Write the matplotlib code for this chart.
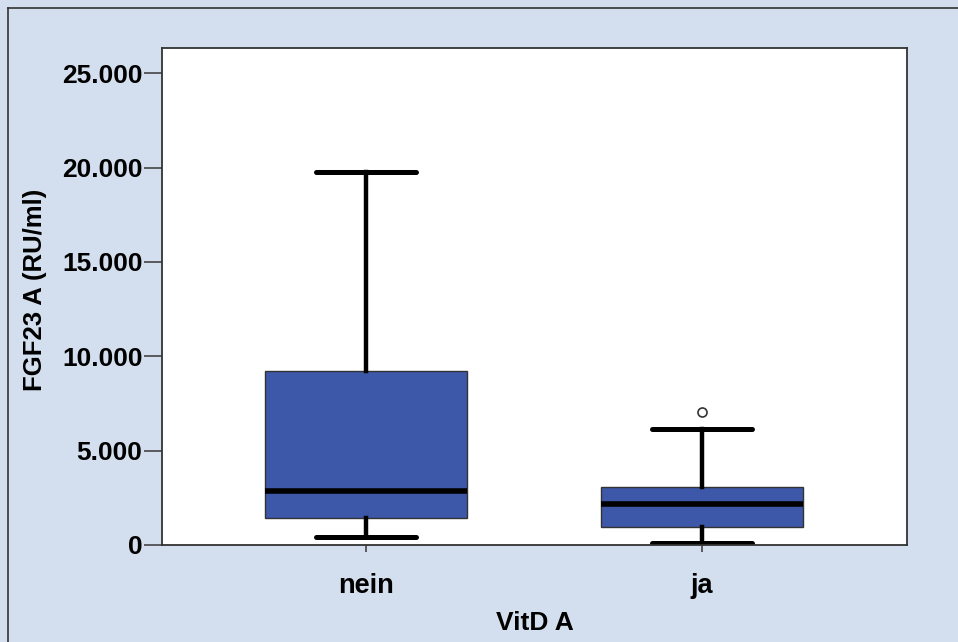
import matplotlib
matplotlib.use("Agg")
import matplotlib.pyplot as plt
from matplotlib.lines import Line2D
from matplotlib.ticker import FuncFormatter

# Group labels and five-number summaries (RU/ml)
groups = ["nein", "ja"]
whisker_low = [410, 120]
q1 = [1410, 970]
median = [2880, 2170]
q3 = [9240, 3060]
whisker_high = [19770, 6150]
outliers = [[], [7060]]

y_ticks = [0, 5000, 10000, 15000, 20000, 25000]

bg = "#d3dfee"
box_fill = "#3d58a8"

plt.rcParams["font.family"] = ["Liberation Sans", "DejaVu Sans"]
plt.rcParams["font.weight"] = "bold"

fig = plt.figure(figsize=(9.58, 6.42), dpi=100)
fig.patch.set_facecolor(bg)

W, H = 958, 642
ax = fig.add_axes([162 / W, 1 - 545 / H, 745 / W, (545 - 48) / H])
ax.set_facecolor("white")

stats = []
for i, g in enumerate(groups):
    stats.append(dict(label=g, whislo=whisker_low[i], q1=q1[i], med=median[i],
                      q3=q3[i], whishi=whisker_high[i], fliers=outliers[i]))

ax.bxp(stats, positions=[1, 2], widths=0.6, patch_artist=True,
       boxprops=dict(facecolor=box_fill, edgecolor="#333333", linewidth=1.0),
       medianprops=dict(color="black", linewidth=4.0, solid_capstyle="butt"),
       whiskerprops=dict(color="black", linewidth=3.2),
       capprops=dict(color="black", linewidth=3.6, solid_capstyle="round"),
       capwidths=0.3,
       flierprops=dict(marker="o", markersize=6.5, markerfacecolor="white",
                       markeredgecolor="#333333", markeredgewidth=1.2))

ax.set_xlim(0.393, 2.61)
ax.set_ylim(0, 26340)
ax.set_yticks(y_ticks)
ax.yaxis.set_major_formatter(FuncFormatter(
    lambda v, p: "0" if v == 0 else f"{int(v):,}".replace(",", ".")))

for s in ax.spines.values():
    s.set_color("#333333")
    s.set_linewidth(1.3)

ax.tick_params(axis="y", length=13, width=1.2, color="#444444", pad=1,
               labelsize=19, direction="out")
ax.tick_params(axis="x", length=5, width=1.2, color="#444444", pad=15,
               labelsize=19.5, direction="out")
for lab in ax.get_xticklabels() + ax.get_yticklabels():
    lab.set_fontweight("bold")

ax.set_xlabel("VitD A", fontsize=19, fontweight="bold", labelpad=9)
ax.set_ylabel("FGF23 A (RU/ml)", fontsize=18.5, fontweight="bold")
ax.yaxis.set_label_coords(-0.155, 0.513)

# outer frame of the chart area (top and left edges)
fig.add_artist(Line2D([8 / W, 1], [1 - 8 / H, 1 - 8 / H], color="#333333",
                      linewidth=1.2, transform=fig.transFigure))
fig.add_artist(Line2D([8 / W, 8 / W], [0, 1 - 8 / H], color="#333333",
                      linewidth=1.2, transform=fig.transFigure))

fig.savefig("out.png", dpi=100, facecolor=bg)
